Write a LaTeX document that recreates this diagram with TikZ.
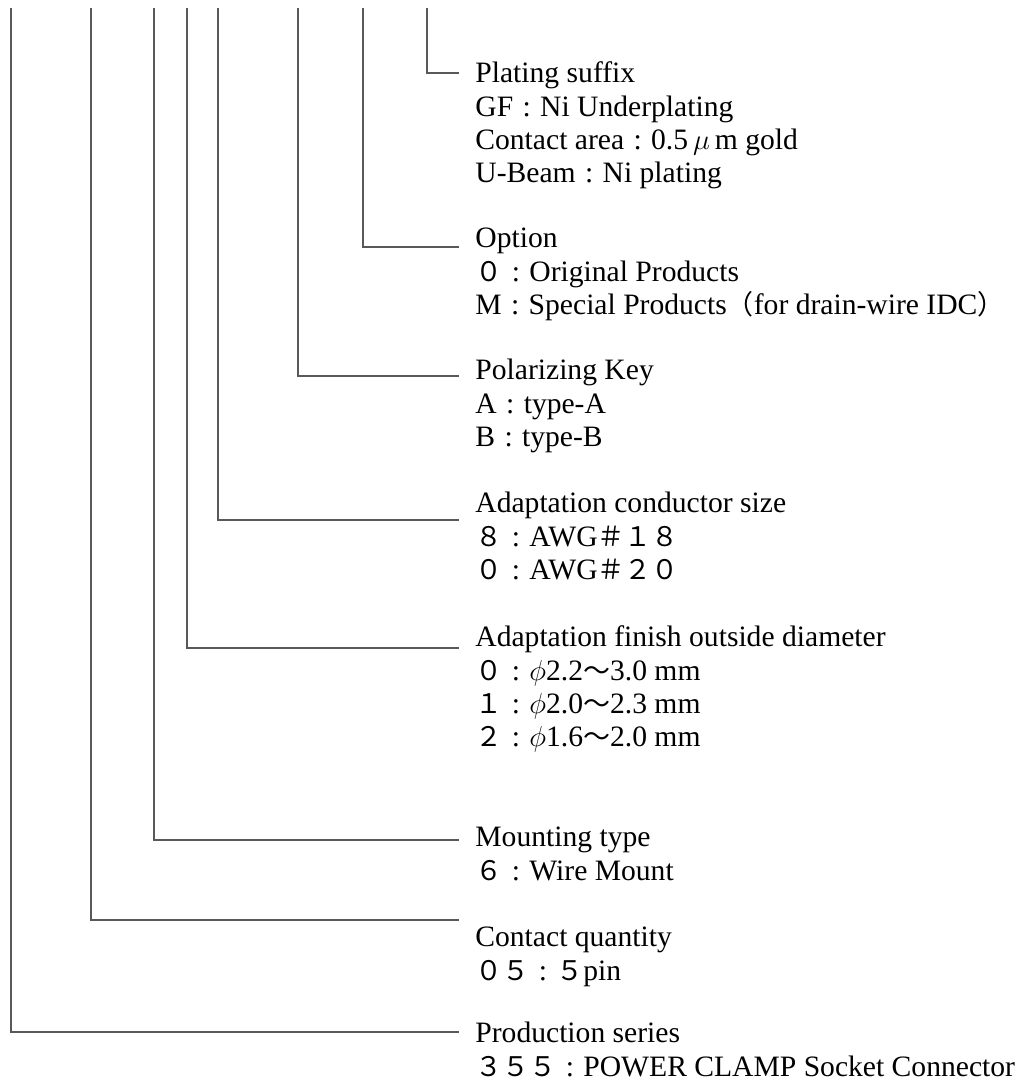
\documentclass[tikz,border=0pt]{standalone}
\usepackage{fontspec}
\setmainfont{Liberation Serif}
\newfontfamily\jp{Noto Sans CJK JP}
\newcommand\zen[1]{{\jp\fontsize{13.5}{16.7}\selectfont #1}}
\newcommand\col{\makebox[13.5pt]{:}}
\usetikzlibrary{positioning}

\begin{document}
\begin{tikzpicture}[
    x=0.5pt, y=-0.5pt,
    lead/.style={draw=black!65, line width=0.6pt},
    desc/.style={anchor=north west, inner sep=0pt, align=left, font=\fontsize{14.8}{16.7}\selectfont}
]
\useasboundingbox (0,0) rectangle (1025,1082);

% Description blocks
\node[desc] (plate) at (475,59) {\strut Plating suffix\\GF\col Ni Underplating\\Contact area\col 0.5\,$\mu$\,m gold\\U-Beam\col Ni plating};
\node[desc] (opt) at (475,224) {\strut Option\\\zen{０}\col Original Products\\M\col Special Products\zen{（}for drain-wire IDC\zen{）}};
\node[desc] (key) at (475,356) {\strut Polarizing Key\\A\col type-A\\B\col type-B};
\node[desc] (awg) at (475,489) {\strut Adaptation conductor size\\\zen{８}\col AWG\zen{＃１８}\\\zen{０}\col AWG\zen{＃２０}};
\node[desc] (dia) at (475,623) {\strut Adaptation finish outside diameter\\\zen{０}\col$\phi$2.2\zen{～}3.0 mm\\\zen{１}\col$\phi$2.0\zen{～}2.3 mm\\\zen{２}\col$\phi$1.6\zen{～}2.0 mm};
\node[desc] (mount) at (475,823) {\strut Mounting type\\\zen{６}\col Wire Mount};
\node[desc] (qty) at (475,923) {\strut Contact quantity\\\zen{０５}\col\zen{５}pin};
\node[desc] (prod) at (475,1019) {\strut Production series\\\zen{３５５}\col POWER CLAMP Socket Connector};

% Lead ends
\coordinate (t1) at (11,8);   \coordinate (e1) at (459,1032);
\coordinate (t2) at (91,8);   \coordinate (e2) at (459,920);
\coordinate (t3) at (154,8);  \coordinate (e3) at (459,840);
\coordinate (t4) at (187,8);  \coordinate (e4) at (459,648);
\coordinate (t5) at (218,8);  \coordinate (e5) at (459,520);
\coordinate (t6) at (298,8);  \coordinate (e6) at (459,376);
\coordinate (t7) at (363,8);  \coordinate (e7) at (459,247);
\coordinate (t8) at (427,8);  \coordinate (e8) at (459,73);

% Leads
\draw[lead] (t1) |- (e1); \draw[lead] (t2) |- (e2); \draw[lead] (t3) |- (e3); \draw[lead] (t4) |- (e4);
\draw[lead] (t5) |- (e5); \draw[lead] (t6) |- (e6); \draw[lead] (t7) |- (e7); \draw[lead] (t8) |- (e8);

\end{tikzpicture}
\end{document}
